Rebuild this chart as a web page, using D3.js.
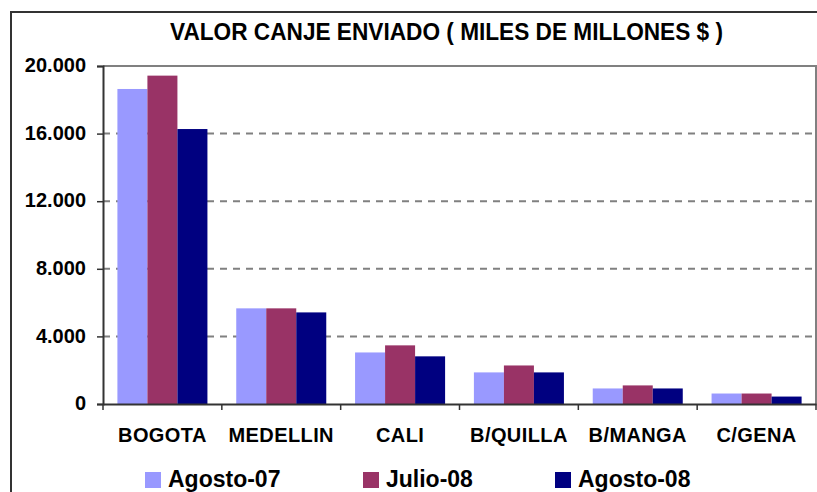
<!DOCTYPE html>
<html>
<head>
<meta charset="utf-8">
<script src="https://cdn.jsdelivr.net/npm/d3@7"></script>
<style>
  body { margin: 0; background: #fff; }
  text { font-family: "Liberation Sans", Arial, sans-serif; font-weight: bold; fill: #000; }
</style>
</head>
<body>
<script>
// Data
const categories = ["BOGOTA", "MEDELLIN", "CALI", "B/QUILLA", "B/MANGA", "C/GENA"];
const seriesNames = ["Agosto-07", "Julio-08", "Agosto-08"];
const agosto07 = [18640, 5660, 3050, 1870, 920, 620];
const julio08  = [19430, 5660, 3470, 2280, 1100, 620];
const agosto08 = [16270, 5420, 2820, 1870, 920, 440];
const yTicks = [0, 4000, 8000, 12000, 16000, 20000];
const colors = ["#9999FF", "#993366", "#000080"];

const seriesValues = [agosto07, julio08, agosto08];
const data = categories.map((c, i) => ({
  cat: c,
  vals: seriesNames.map((s, j) => ({ key: s, value: seriesValues[j][i] }))
}));

const W = 817, H = 492;
const plot = { left: 103, right: 816, top: 66, bottom: 404 };

const svg = d3.select("body")
  .append("svg")
    .attr("width", W)
    .attr("height", H);

// Outer frame
svg.append("rect")
  .attr("x", 11).attr("y", 12)
  .attr("width", 830).attr("height", 520)
  .attr("fill", "none")
  .attr("stroke", "#333")
  .attr("stroke-width", 2);

// Title
svg.append("text")
  .attr("x", 170).attr("y", 40)
  .attr("font-size", 24)
  .attr("textLength", 553)
  .attr("lengthAdjust", "spacingAndGlyphs")
  .text("VALOR CANJE ENVIADO ( MILES DE MILLONES $ )");

// Scales
const x = d3.scaleBand()
  .domain(categories)
  .range([plot.left, plot.right]);

const xSub = d3.scaleBand()
  .domain(seriesNames)
  .range([0, x.bandwidth()])
  .paddingOuter(0.48);

const y = d3.scaleLinear()
  .domain([0, 20000])
  .range([plot.bottom, plot.top]);

const color = d3.scaleOrdinal().domain(seriesNames).range(colors);

// Gridlines
svg.append("g")
  .selectAll("line")
  .data(yTicks.filter(t => t > 0 && t < 20000))
  .join("line")
    .attr("x1", plot.left).attr("x2", plot.right)
    .attr("y1", d => y(d)).attr("y2", d => y(d))
    .attr("stroke", "#808080")
    .attr("stroke-width", 2)
    .attr("stroke-dasharray", "7,6");

// Top and right plot border
svg.append("path")
  .attr("d", `M${plot.left},${y(20000)}H${plot.right}V${plot.bottom}`)
  .attr("fill", "none")
  .attr("stroke", "#808080")
  .attr("stroke-width", 2);

// Bars
svg.append("g")
  .selectAll("g")
  .data(data)
  .join("g")
    .attr("transform", d => `translate(${x(d.cat)},0)`)
  .selectAll("rect")
  .data(d => d.vals)
  .join("rect")
    .attr("x", d => xSub(d.key))
    .attr("y", d => y(d.value))
    .attr("width", xSub.bandwidth())
    .attr("height", d => y(0) - y(d.value))
    .attr("fill", d => color(d.key));

// Y axis
const yAxis = svg.append("g")
  .attr("transform", `translate(${plot.left},0)`)
  .call(d3.axisLeft(y)
    .tickValues(yTicks)
    .tickSize(6)
    .tickPadding(11)
    .tickFormat(d => d3.format(",")(d).replace(/,/g, ".")));
yAxis.select(".domain").attr("stroke", "#333").attr("stroke-width", 2);
yAxis.selectAll(".tick line").attr("stroke", "#333").attr("stroke-width", 1.5);
yAxis.selectAll(".tick text")
  .attr("font-size", 20)
  .attr("font-family", "Liberation Sans, Arial, sans-serif")
  .attr("font-weight", "bold")
  .attr("fill", "#000")
  .attr("dy", "0.28em");

// X axis
const xAxis = svg.append("g")
  .attr("transform", `translate(0,${plot.bottom})`)
  .call(d3.axisBottom(x).tickSize(0).tickPadding(24));
xAxis.select(".domain").attr("stroke", "#333").attr("stroke-width", 2);
xAxis.selectAll(".tick text")
  .attr("font-size", 20)
  .attr("font-family", "Liberation Sans, Arial, sans-serif")
  .attr("font-weight", "bold")
  .attr("fill", "#000")
  .attr("letter-spacing", 0.4)
  .attr("dy", "0.71em");

// Category separator ticks
svg.append("g")
  .selectAll("line")
  .data(categories.concat(["end"]))
  .join("line")
    .attr("x1", (d, i) => plot.left + i * x.step())
    .attr("x2", (d, i) => plot.left + i * x.step())
    .attr("y1", plot.bottom)
    .attr("y2", plot.bottom + 6)
    .attr("stroke", "#333")
    .attr("stroke-width", 1.5);

// Legend
const legendX = [145, 363, 555];
const legend = svg.append("g")
  .selectAll("g")
  .data(seriesNames)
  .join("g")
    .attr("transform", (d, i) => `translate(${legendX[i]},472)`);
legend.append("rect")
  .attr("width", 16).attr("height", 16)
  .attr("fill", d => color(d));
legend.append("text")
  .attr("x", 23).attr("y", 15)
  .attr("font-size", 23)
  .text(d => d);
</script>
</body>
</html>
